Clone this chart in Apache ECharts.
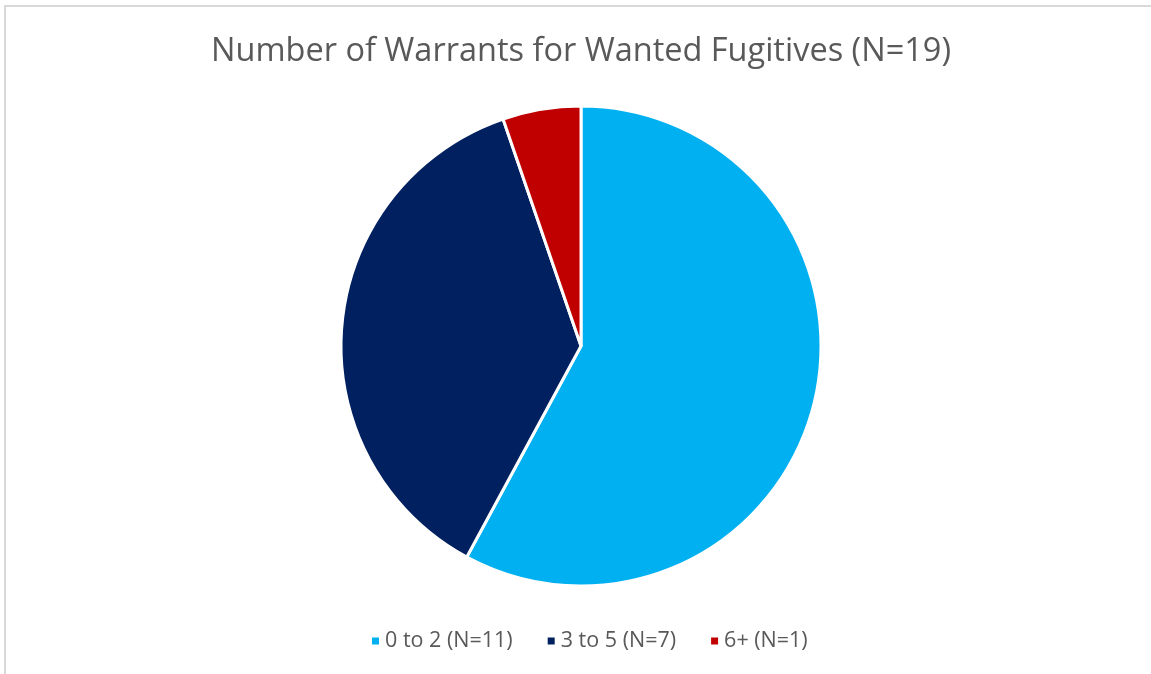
<!DOCTYPE html>
<html><head><meta charset="utf-8">
<script src="https://cdn.jsdelivr.net/npm/echarts@6/dist/echarts.min.js"></script>
<style>
html,body{margin:0;padding:0;background:#fff;overflow:hidden;width:1151px;height:674px}
#frame{position:absolute;left:4px;top:5px;width:1200px;height:720px;border:2px solid #d9d9d9;box-sizing:border-box}
#chart{position:absolute;left:0;top:0;width:1162px;height:674px}
</style></head>
<body>
<div id="frame"></div>
<div id="chart"></div>
<script>
const titleText = 'Number of Warrants for Wanted Fugitives (N=19)';
const categories = ['0 to 2 (N=11)', '3 to 5 (N=7)', '6+ (N=1)'];
const values = [11, 7, 1];
const colors = ['#00B0F0', '#002060', '#C00000'];

const chart = echarts.init(document.getElementById('chart'), null, {renderer: 'canvas'});
chart.setOption({
  backgroundColor: 'transparent',
  animation: false,
  title: {
    text: titleText, left: 'center', top: 30,
    textStyle: {color: '#595959', fontSize: 32.5, fontWeight: 'normal', fontFamily: 'Open Sans'}
  },
  legend: {
    top: 625, left: 365, itemWidth: 9, itemHeight: 9, itemGap: 33, icon: 'rect',
    textStyle: {color: '#595959', fontSize: 21.5, fontFamily: 'Open Sans'},
    data: categories
  },
  series: [{
    type: 'pie', center: [581, 346], radius: 240, startAngle: 90, clockwise: true,
    label: {show: false}, labelLine: {show: false},
    itemStyle: {borderColor: '#fff', borderWidth: 3},
    emphasis: {disabled: true},
    data: categories.map((c, i) => ({name: c, value: values[i], itemStyle: {color: colors[i]}}))
  }]
});
</script>
</body></html>
